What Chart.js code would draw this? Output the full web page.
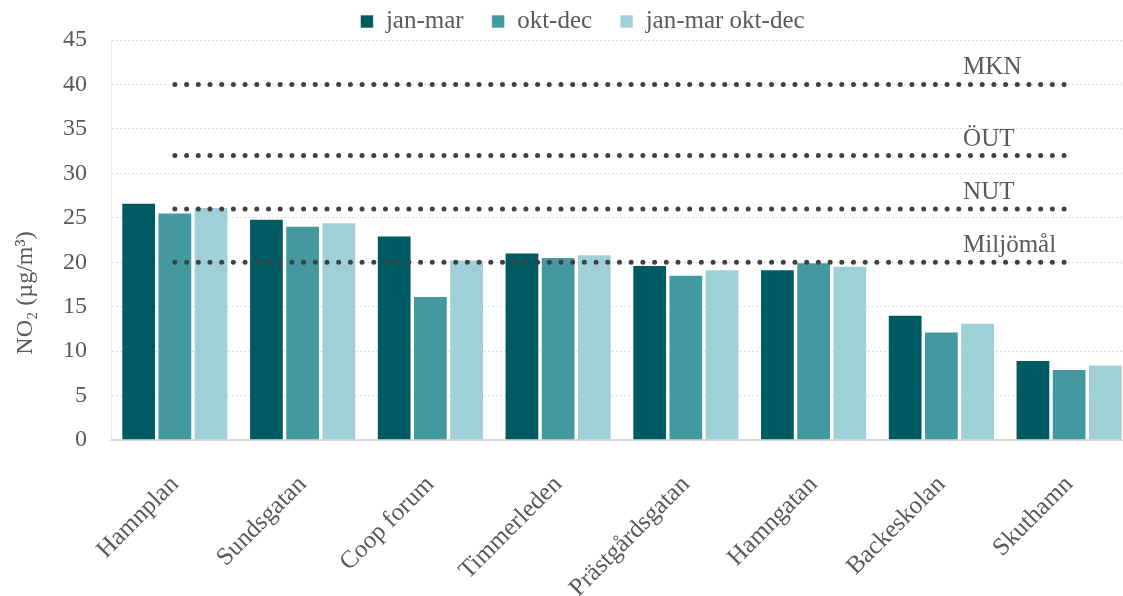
<!DOCTYPE html>
<html>
<head>
<meta charset="utf-8">
<script src="https://cdn.jsdelivr.net/npm/chart.js@4.4.0/dist/chart.umd.min.js"></script>
<style>
  html, body { margin: 0; padding: 0; background: #ffffff; overflow: hidden; }
  #wrap { width: 1123px; height: 596px; position: relative; overflow: hidden; }
  #c { position: absolute; left: 0; top: 0; }
</style>
</head>
<body>
<div id="wrap"><canvas id="c" width="1133" height="596"></canvas></div>
<script>
// Measurement sites
const categories = ['Hamnplan', 'Sundsgatan', 'Coop forum', 'Timmerleden',
  'Prästgårdsgatan', 'Hamngatan', 'Backeskolan', 'Skuthamn'];

// NO2 mean concentrations (µg/m³) per period
const janMar       = [26.7, 24.9, 23.0, 21.1, 19.7, 19.2, 14.1, 9.0];
const oktDec       = [25.6, 24.1, 16.2, 20.6, 18.6, 20.0, 12.2, 8.0];
const janMarOktDec = [26.2, 24.5, 20.3, 20.9, 19.2, 19.6, 13.2, 8.5];

const seriesNames = ['jan-mar', 'okt-dec', 'jan-mar okt-dec'];

// Limit / target levels shown as dotted lines
const limitNames  = ['MKN', 'ÖUT', 'NUT', 'Miljömål'];
const limitValues = [40, 32, 26, 20];

// Y-axis range
const yMin = 0, yMax = 45, yStep = 5;

const FONT = '"Liberation Serif", "DejaVu Serif", serif';
const TEXT = '#595959';
const barColors = ['#005A63', '#4499A0', '#A0D0D7'];

const barDatasets = [janMar, oktDec, janMarOktDec].map((vals, i) => ({
  type: 'bar',
  label: seriesNames[i],
  data: vals,
  backgroundColor: barColors[i],
  borderColor: 'rgba(255,255,255,0.6)',
  borderWidth: 1,
  barPercentage: 0.96,
  categoryPercentage: 0.85,
  order: 2
}));

const limitDatasets = limitValues.map((v, i) => ({
  type: 'line',
  label: limitNames[i],
  data: categories.map(() => v),
  borderColor: '#404040',
  borderWidth: 5,
  borderDash: [0, 11.7],
  borderCapStyle: 'round',
  pointRadius: 0,
  fill: false,
  isLimit: true,
  order: 1
}));

// Names of the limit lines, written just above each dotted line
const limitLabels = {
  id: 'limitLabels',
  afterDatasetsDraw(chart) {
    const { ctx, scales: { x, y } } = chart;
    ctx.save();
    ctx.font = '25px ' + FONT;
    ctx.fillStyle = TEXT;
    ctx.textAlign = 'left';
    ctx.textBaseline = 'alphabetic';
    const lx = x.getPixelForValue(6.17);
    limitValues.forEach((v, i) => {
      ctx.fillText(limitNames[i], lx, y.getPixelForValue(v) - 10);
    });
    ctx.restore();
  }
};

// Rotated y-axis title with sub/superscript
const yTitle = {
  id: 'yTitle',
  afterDraw(chart) {
    const { ctx } = chart;
    ctx.save();
    ctx.translate(26, 293);
    ctx.rotate(-Math.PI / 2);
    ctx.font = '24px ' + FONT;
    ctx.fillStyle = TEXT;
    ctx.textAlign = 'center';
    ctx.textBaseline = 'middle';
    ctx.fillText('NO₂ (µg/m³)', 0, 0);
    ctx.restore();
  }
};

// Nudge the legend row right and down
const legendShift = {
  id: 'legendShift',
  afterLayout(chart) {
    if (chart.legend) {
      chart.legend.left += 16;
      chart.legend.right += 16;
      chart.legend.top += 4;
      chart.legend.bottom += 4;
    }
  }
};

new Chart(document.getElementById('c'), {
  data: {
    labels: categories,
    datasets: [...barDatasets, ...limitDatasets]
  },
  options: {
    responsive: false,
    animation: false,
    layout: { padding: { left: 0, right: 0, top: -23, bottom: 0 } },
    plugins: {
      legend: {
        position: 'top',
        labels: {
          font: { family: FONT, size: 25 },
          color: TEXT,
          boxWidth: 13,
          boxHeight: 13,
          padding: 28,
          filter: (item, data) => !data.datasets[item.datasetIndex].isLimit
        }
      },
      tooltip: { enabled: false }
    },
    scales: {
      x: {
        grid: { display: false },
        border: { display: true, color: '#D9D9D9', width: 2 },
        ticks: {
          font: { family: FONT, size: 25 },
          color: TEXT,
          minRotation: 45,
          maxRotation: 45,
          padding: 22
        },
        afterFit(scale) {
          scale.height = 156;
          scale.paddingLeft = 0;
          scale.paddingRight = 0;
        }
      },
      y: {
        min: yMin,
        max: yMax,
        ticks: {
          stepSize: yStep,
          font: { family: FONT, size: 24 },
          color: TEXT,
          padding: 24
        },
        grid: {
          drawTicks: false,
          color: (c) => c.tick && c.tick.value === 0 ? 'rgba(0,0,0,0)' : '#E2DFCC',
          lineWidth: 1
        },
        border: { display: true, color: '#ECEBE2', width: 1, dash: [2, 2] },
        afterFit(scale) { scale.width = 111; }
      }
    }
  },
  plugins: [limitLabels, yTitle, legendShift]
});
</script>
</body>
</html>
